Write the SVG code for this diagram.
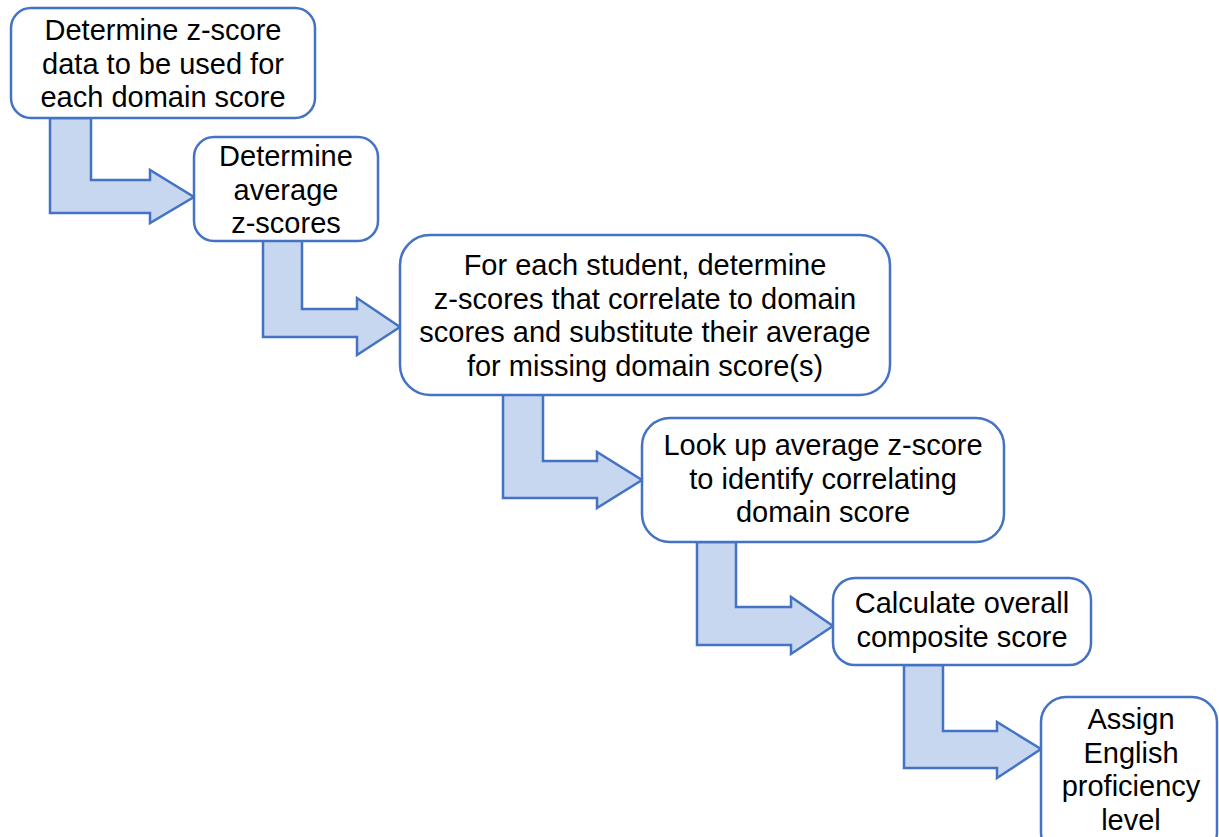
<svg xmlns="http://www.w3.org/2000/svg" width="1219" height="837" viewBox="0 0 1219 837">
<style>
.box{fill:#FFFFFF;stroke:#4472C4;stroke-width:2.5}
.arr{fill:#C6D7EF;stroke:#4472C4;stroke-width:2.5;stroke-linejoin:miter}
text{font-family:"Liberation Sans",Arial,sans-serif;font-size:29px;fill:#000;text-anchor:middle}
</style>
<rect width="1219" height="837" fill="#FFFFFF"/>
<g id="connectors">
<path class="arr" d="M50,118 V213 H150 V223 L194,197 L150,170 V180 H91 V118 Z"/>
<path class="arr" d="M263,240 V337 H357 V355 L400,327 L357,298 V309 H302 V240 Z"/>
<path class="arr" d="M503,394 V498 H597 V508 L642,480 L597,452 V461 H543 V394 Z"/>
<path class="arr" d="M697,542 V645 H791 V654 L833,626 L791,597 V607 H736 V542 Z"/>
<path class="arr" d="M904,665 V768 H997 V778 L1041,749 L997,722 V731 H943 V665 Z"/>
</g>
<g id="node1">
<rect class="box" x="11" y="8" width="304" height="110" rx="20"/>
<text x="163" y="40">Determine z-score</text>
<text x="163" y="73.5">data to be used for</text>
<text x="163" y="107">each domain score</text>
</g>
<g id="node2">
<rect class="box" x="194" y="137" width="184" height="104" rx="20"/>
<text x="286" y="166">Determine</text>
<text x="286" y="199.5">average</text>
<text x="286" y="233">z-scores</text>
</g>
<g id="node3">
<rect class="box" x="400" y="235" width="490" height="160" rx="30"/>
<text x="645" y="275">For each student, determine</text>
<text x="645" y="308.5">z-scores that correlate to domain</text>
<text x="645" y="342">scores and substitute their average</text>
<text x="645" y="375.5">for missing domain score(s)</text>
</g>
<g id="node4">
<rect class="box" x="642" y="418" width="362" height="124" rx="28"/>
<text x="823" y="455">Look up average z-score</text>
<text x="823" y="488.5">to identify correlating</text>
<text x="823" y="522">domain score</text>
</g>
<g id="node5">
<rect class="box" x="833" y="578" width="258" height="87" rx="22"/>
<text x="962" y="613">Calculate overall</text>
<text x="962" y="646.5">composite score</text>
</g>
<g id="node6">
<rect class="box" x="1041" y="697" width="176" height="160" rx="25"/>
<text x="1131" y="729">Assign</text>
<text x="1131" y="762.5">English</text>
<text x="1131" y="796">proficiency</text>
<text x="1131" y="829.5">level</text>
</g>
</svg>
